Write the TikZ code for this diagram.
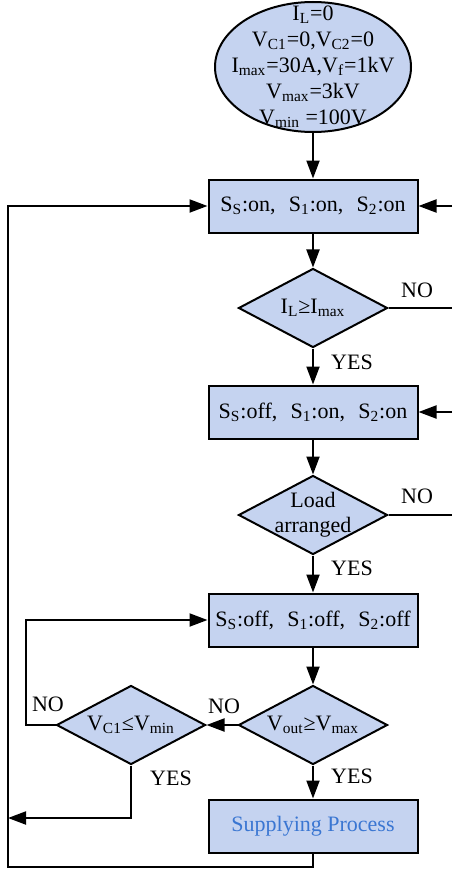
\documentclass[tikz,border=0pt]{standalone}
\usepackage{fontspec}
\setmainfont{Liberation Serif}
\usetikzlibrary{shapes.geometric,arrows.meta}

\definecolor{fillblue}{RGB}{197,211,240}
\definecolor{txtblue}{RGB}{58,118,210}

\tikzset{
  base/.style={draw, line width=1pt, fill=fillblue, inner sep=0pt, align=center, font=\fontsize{11}{12.5}\selectfont},
  box/.style={base, minimum width=104.5pt, minimum height=26.5pt},
  oval/.style={base, ellipse, minimum width=98pt, minimum height=65pt},
  decision/.style={base, diamond, aspect=1.9, minimum width=74.5pt, minimum height=39.5pt},
  arr/.style={line width=1pt, -{Triangle[length=9pt,width=6.5pt]}},
  ln/.style={line width=1pt},
  lbl/.style={font=\fontsize{11}{12}\selectfont}
}
\newcommand{\gap}{,\hspace{0.6em}}

\begin{document}
\begin{tikzpicture}[x=0.5pt,y=-0.5pt]
 \useasboundingbox (0,0) rectangle (452,872);
 % blocks
 \node[oval] (init) at (313,67) {};
 \node[align=center, font=\fontsize{11}{13}\selectfont] (inittxt) at (313,67) {I\textsubscript{L}=0\\V\textsubscript{C1}=0,V\textsubscript{C2}=0\\I\textsubscript{max}=30A,V\textsubscript{f}=1kV\\V\textsubscript{max}=3kV\\V\textsubscript{min} =100V};
 \node[box] (on) at (313,206) {S\textsubscript{S}:on\gap S\textsubscript{1}:on\gap S\textsubscript{2}:on};
 \node[decision] (cur) at (313,308) {I\textsubscript{L}≥I\textsubscript{max}};
 \node[box] (chg) at (313,412) {S\textsubscript{S}:off\gap S\textsubscript{1}:on\gap S\textsubscript{2}:on};
 \node[decision, inner sep=-4pt] (load) at (313,515) {Load\\arranged};
 \node[box] (off) at (313,620) {S\textsubscript{S}:off\gap S\textsubscript{1}:off\gap S\textsubscript{2}:off};
 \node[decision] (vout) at (313,725) {V\textsubscript{out}≥V\textsubscript{max}};
 \node[decision] (vc) at (131,725) {V\textsubscript{C1}≤V\textsubscript{min}};
 \node[box, text=txtblue] (sup) at (313,826) {Supplying Process};
 % corners of the loops
 \coordinate (re) at (452,0);
 \coordinate (lb) at (8,867);
 \coordinate (ly) at (8,818);
 % main flow
 \draw[arr] (init) -- (on);
 \draw[arr] (on) -- (cur);
 \draw[arr] (cur) -- (chg);
 \draw[arr] (chg) -- (load);
 \draw[arr] (load) -- (off);
 \draw[arr] (off) -- (vout);
 \draw[arr] (vout) -- (sup);
 \draw[arr] (vout) -- (vc);
 % right side returns
 \draw[ln] (cur.east) -- (cur.east -| re);
 \draw[arr] (on.east -| re) -- (on.east);
 \draw[ln] (load.east) -- (load.east -| re);
 \draw[arr] (chg.east -| re) -- (chg.east);
 % left side returns
 \draw[arr] (sup.south) |- (lb) |- (on.west);
 \draw[arr] (vc.south) |- (ly);
 \draw[arr] (vc.west) -- ++(-30,0) |- (off.west);
 % labels
 \node[lbl] (no1) at (417,290) {NO};
 \node[lbl] (yes1) at (352,362) {YES};
 \node[lbl] (no2) at (417,496) {NO};
 \node[lbl] (yes2) at (352,568) {YES};
 \node[lbl] (no3) at (224,706) {NO};
 \node[lbl] (no4) at (48,704) {NO};
 \node[lbl] (yes4) at (171,778) {YES};
 \node[lbl] (yes3) at (352,776) {YES};
\end{tikzpicture}
\end{document}
